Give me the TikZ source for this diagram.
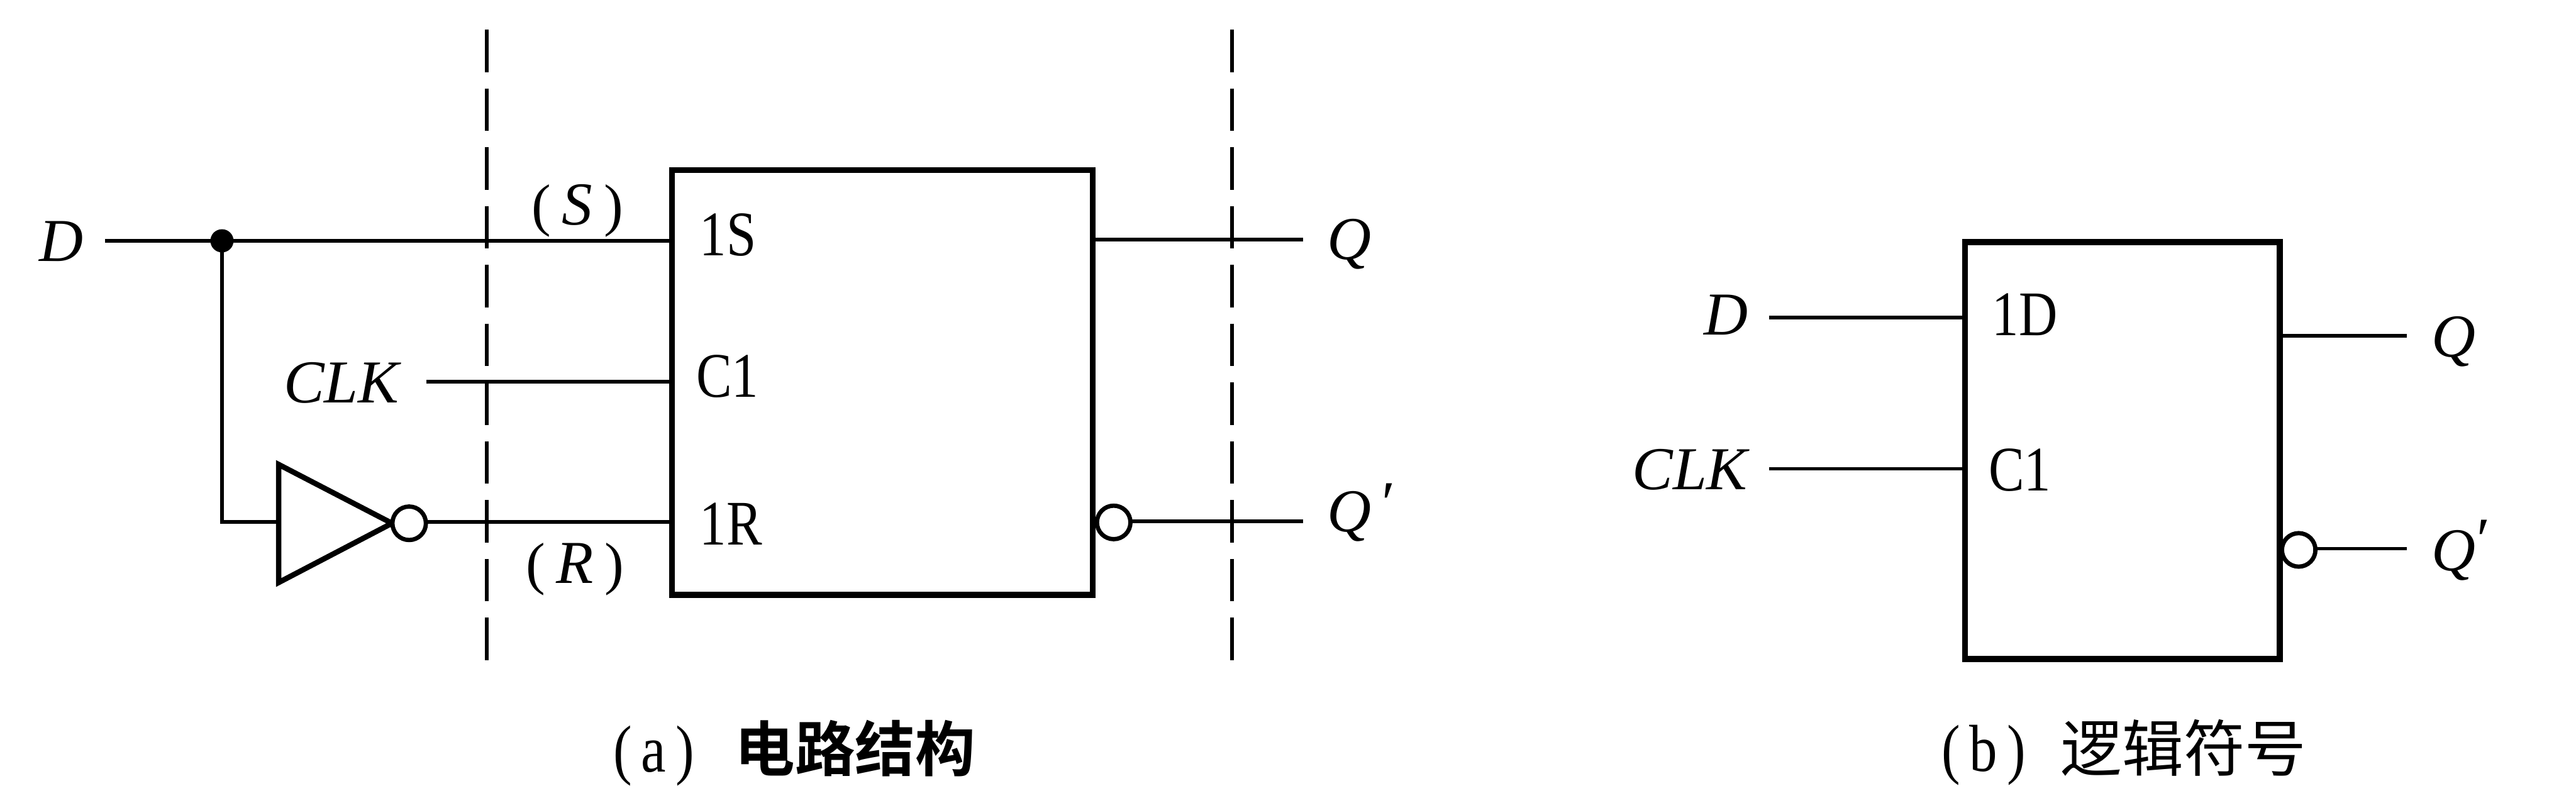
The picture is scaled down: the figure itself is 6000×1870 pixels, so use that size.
\documentclass[tikz,border=0pt]{standalone}
\usepackage{fontspec}
\setmainfont{Liberation Serif}
\newfontfamily\rmn[FakeStretch=0.84]{Liberation Serif}
\newfontfamily\cjkb[BoldFont={Noto Sans CJK SC Bold}]{Noto Sans CJK SC}
\newcommand{\itfont}{\fontsize{14.2}{17}\selectfont\itshape}
\newcommand{\rmfont}{\fontsize{14.8}{17}\rmn}
\newcommand{\pl}{{\fontsize{13.5}{15}\selectfont\upshape (}\kern2.6pt}
\newcommand{\pr}{\kern2.6pt{\fontsize{13.5}{15}\selectfont\upshape )}}
\newcommand{\prm}[2]{\kern#1pt\raisebox{#2pt}{\char"2032}}
\usetikzlibrary{calc}
\tikzset{
  x=0.1pt,y=-0.1pt,
  wire/.style={line width=0.85pt,line cap=butt},
  sep/.style={line width=0.9pt,dash pattern=on 9.9pt off 3.8pt},
  blockbox/.style={draw,line width=1.4pt,rectangle,inner sep=0pt,outer sep=0pt},
  bubble/.style={draw,circle,fill=white,line width=1pt,inner sep=0pt,outer sep=0pt,minimum size=7.8pt},
  dotj/.style={fill=black,circle,inner sep=0pt,outer sep=0pt,minimum size=5.4pt},
  lab/.style={inner sep=0pt,outer sep=0pt,anchor=base},
  labw/.style={inner sep=0pt,outer sep=0pt,anchor=base west},
  itl/.style={font=\itfont},
  rml/.style={font=\rmfont},
  gate/.style={line width=1.25pt,line join=miter}
}
\begin{document}
\begin{tikzpicture}
\useasboundingbox (0,0) rectangle (6000,1870);
% --- (a)
\coordinate (sepAt) at (1134,69); \coordinate (sepAb) at (1134,1543);
\coordinate (sepBt) at (2869,69); \coordinate (sepBb) at (2869,1543);
\draw[sep] (sepAt) -- (sepAb);
\draw[sep] (sepBt) -- (sepBb);
\node[blockbox,minimum width=98pt,minimum height=99pt] (ff) at (2055,891) {};
\coordinate (dIn) at (245,561);
\coordinate (sIn) at (1565,561);
\coordinate (cIn) at (993,889);
\coordinate (cEnd) at (1565,889);
\coordinate (rEnd) at (1565,1216);
\coordinate (corner) at (517,1216);
\coordinate (invIn) at (649,1216);
\coordinate (invA) at (649,1082);
\coordinate (invB) at (649,1357);
\coordinate (invT) at (913,1219);
\coordinate (qS) at (2545,558);
\coordinate (qE) at (3035,558);
\coordinate (nqE) at (3035,1214);
\node[dotj] (junc) at (517,561) {};
\draw[wire] (dIn) -- (junc) -- (sIn);
\draw[wire] (junc) -- (corner) -- (invIn);
\draw[wire] (cIn) -- (cEnd);
\draw[gate] (invA) -- (invB) -- (invT) -- cycle;
\node[bubble] (bubA) at (953,1219) {};
\draw[wire] (bubA.east |- rEnd) -- (rEnd);
\draw[wire] (qS) -- (qE);
\node[bubble] (bubB) at (2594,1217) {};
\draw[wire] (bubB.east |- nqE) -- (nqE);
\node[lab,itl] (tD) at (143,608) {D};
\node[lab,itl] (tS) at (1345,523) {\pl S\pr};
\node[lab,itl] (tCLK) at (795,938) {CLK};
\node[lab,itl] (tR) at (1339,1358) {\pl R\pr};
\node[labw,rml] (t1S) at (1630,596) {1S};
\node[labw,rml] (tC1) at (1622,925) {C1};
\node[labw,rml] (t1R) at (1630,1270) {1R};
\node[labw,itl] (tQ) at (3092,605) {Q};
\node[labw,itl] (tNQ) at (3092,1238) {Q\prm{1.5}{1.8}};
\node[lab,font=\fontsize{15.5}{17}\rmn] (capA1) at (1523,1798) {({\fontsize{15.5}{17}\rmn\kern2.2pt a\kern2.2pt})};
\node[labw,font=\fontsize{14}{16}\cjkb\bfseries] (capA2) at (1712,1797) {电路结构};
% --- (b)
\node[blockbox,minimum width=73.3pt,minimum height=97.1pt] (ffb) at (4943.5,1049.5) {};
\coordinate (dbS) at (4121,740); \coordinate (dbE) at (4577,740);
\coordinate (cbS) at (4121,1092); \coordinate (cbE) at (4577,1092);
\coordinate (qbS) at (5310,782); \coordinate (qbE) at (5606,782);
\coordinate (nqbE) at (5606,1278);
\draw[wire] (dbS) -- (dbE);
\draw[wire] (cbS) -- (cbE);
\draw[wire] (qbS) -- (qbE);
\node[bubble] (bubC) at (5354,1281) {};
\draw[wire] (bubC.east |- nqbE) -- (nqbE);
\node[lab,itl] (tDb) at (4020,780) {D};
\node[lab,itl] (tCLKb) at (3936,1140) {CLK};
\node[labw,rml] (t1D) at (4640,782) {1D};
\node[labw,rml] (tC1b) at (4632,1144) {C1};
\node[labw,itl] (tQb) at (5664,832) {Q};
\node[labw,itl] (tNQb) at (5664,1330) {Q\prm{-0.6}{2.6}};
\node[lab,font=\fontsize{15.5}{17}\rmn] (capB1) at (4620,1797) {(\kern2.2pt b\kern2.2pt)};
\node[labw,font=\fontsize{14.3}{16}\cjkb] (capB2) at (4800,1797) {逻辑符号};
\end{tikzpicture}
\end{document}
